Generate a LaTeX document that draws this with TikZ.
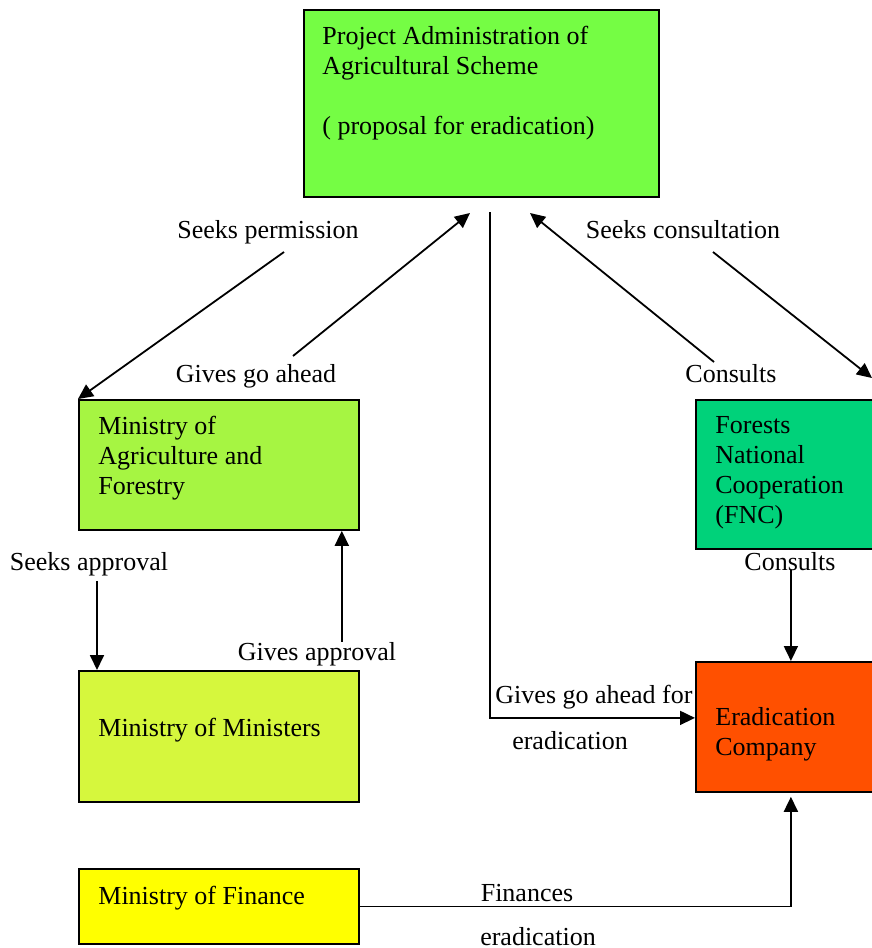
\documentclass[tikz,border=0pt]{standalone}
\usepackage{fontspec}
\setmainfont{Liberation Serif}
\usetikzlibrary{arrows.meta, positioning}

\definecolor{adminGreen}{RGB}{117,253,68}
\definecolor{agriGreen}{RGB}{166,245,66}
\definecolor{ministersLime}{RGB}{214,247,61}
\definecolor{financeYellow}{RGB}{255,255,0}
\definecolor{fncGreen}{RGB}{0,210,122}
\definecolor{eradOrange}{RGB}{255,80,0}

\begin{document}
\begin{tikzpicture}[x=0.5pt, y=-0.5pt,
    box/.style={draw, line width=0.9pt, inner sep=0pt, anchor=north west},
    boxtext/.style={anchor=north west, inner sep=0pt, align=left, font=\fontsize{13}{15}\selectfont},
    lbl/.style={anchor=base, inner sep=0pt, font=\fontsize{13}{15}\selectfont},
    arr/.style={-{Triangle[length=7.5pt, width=7pt]}, line width=0.9pt}]
    \useasboundingbox (0,0) rectangle (872,948);

    % Boxes
    \node[box, fill=adminGreen, minimum width=177.5pt, minimum height=93.5pt] (admin) at (303,9) {};
    \node[box, fill=agriGreen, minimum width=140pt, minimum height=65pt] (agri) at (78,399) {};
    \node[box, fill=ministersLime, minimum width=140pt, minimum height=65.5pt] (ministers) at (78,670) {};
    \node[box, fill=financeYellow, minimum width=140pt, minimum height=37.5pt] (finance) at (78,868) {};
    \node[box, fill=fncGreen, minimum width=95pt, minimum height=74.5pt] (fnc) at (695,399) {};
    \node[box, fill=eradOrange, minimum width=95pt, minimum height=65pt] (erad) at (695,661) {};

    % Box texts
    \node[boxtext] (adminText) at (322,26) {Project Administration of\\Agricultural Scheme\\[15pt]( proposal for eradication)};
    \node[boxtext] (agriText) at (98,416) {Ministry of\\Agriculture and\\Forestry};
    \node[boxtext] (ministersText) at (98,718) {Ministry of Ministers};
    \node[boxtext] (financeText) at (98,886) {Ministry of Finance};
    \node[boxtext] (fncText) at (715,416) {Forests\\National\\Cooperation\\(FNC)};
    \node[boxtext] (eradText) at (715,707) {Eradication\\Company};

    % Labels
    \node[lbl] (seeksPerm) at (268,238) {Seeks permission};
    \node[lbl] (seeksCons) at (683,238) {Seeks consultation};
    \node[lbl] (givesAhead) at (256,382) {Gives go ahead};
    \node[lbl] (consultsUp) at (731,382) {Consults};
    \node[lbl] (seeksAppr) at (89,570) {Seeks approval};
    \node[lbl] (consultsLow) at (790,570) {Consults};
    \node[lbl] (givesAppr) at (317,660) {Gives approval};
    \node[lbl] (aheadFor) at (594,703) {Gives go ahead for};
    \node[lbl] (aheadErad) at (570,749) {eradication};
    \node[lbl] (finances) at (527,901) {Finances};
    \node[lbl] (financesErad) at (538,945) {eradication};

    % Free ends
    \coordinate (permStart) at (284,252);
    \coordinate (aheadStart) at (293,356);
    \coordinate (aheadEnd) at (470,213);
    \coordinate (consStart) at (713,252);
    \coordinate (consEnd) at (872,378);
    \coordinate (consultsStart) at (714,362);
    \coordinate (consultsEnd) at (530,213);
    \coordinate (mainStart) at (490,212);

    % Connectors
    \draw[arr] (permStart) -- (agri.north west);
    \draw[arr] (aheadStart) -- (aheadEnd);
    \draw[arr] (consStart) -- (consEnd);
    \draw[arr] (consultsStart) -- (consultsEnd);
    \draw[arr] (mainStart) |- ([yshift=4.5pt]erad.west);
    \draw[arr] ([xshift=9.5pt, yshift=-2.5pt]seeksAppr.south west -| ministers.north west) -- ([xshift=9.5pt]ministers.north west);
    \draw[arr] ([xshift=-9pt]agri.south east |- givesAppr.north) -- ([xshift=-9pt]agri.south east);
    \draw[arr] (erad.north |- consultsLow.base) -- (erad.north);
    \draw[arr, shorten >=2pt] (finance.east) -| (erad.south);
\end{tikzpicture}
\end{document}
